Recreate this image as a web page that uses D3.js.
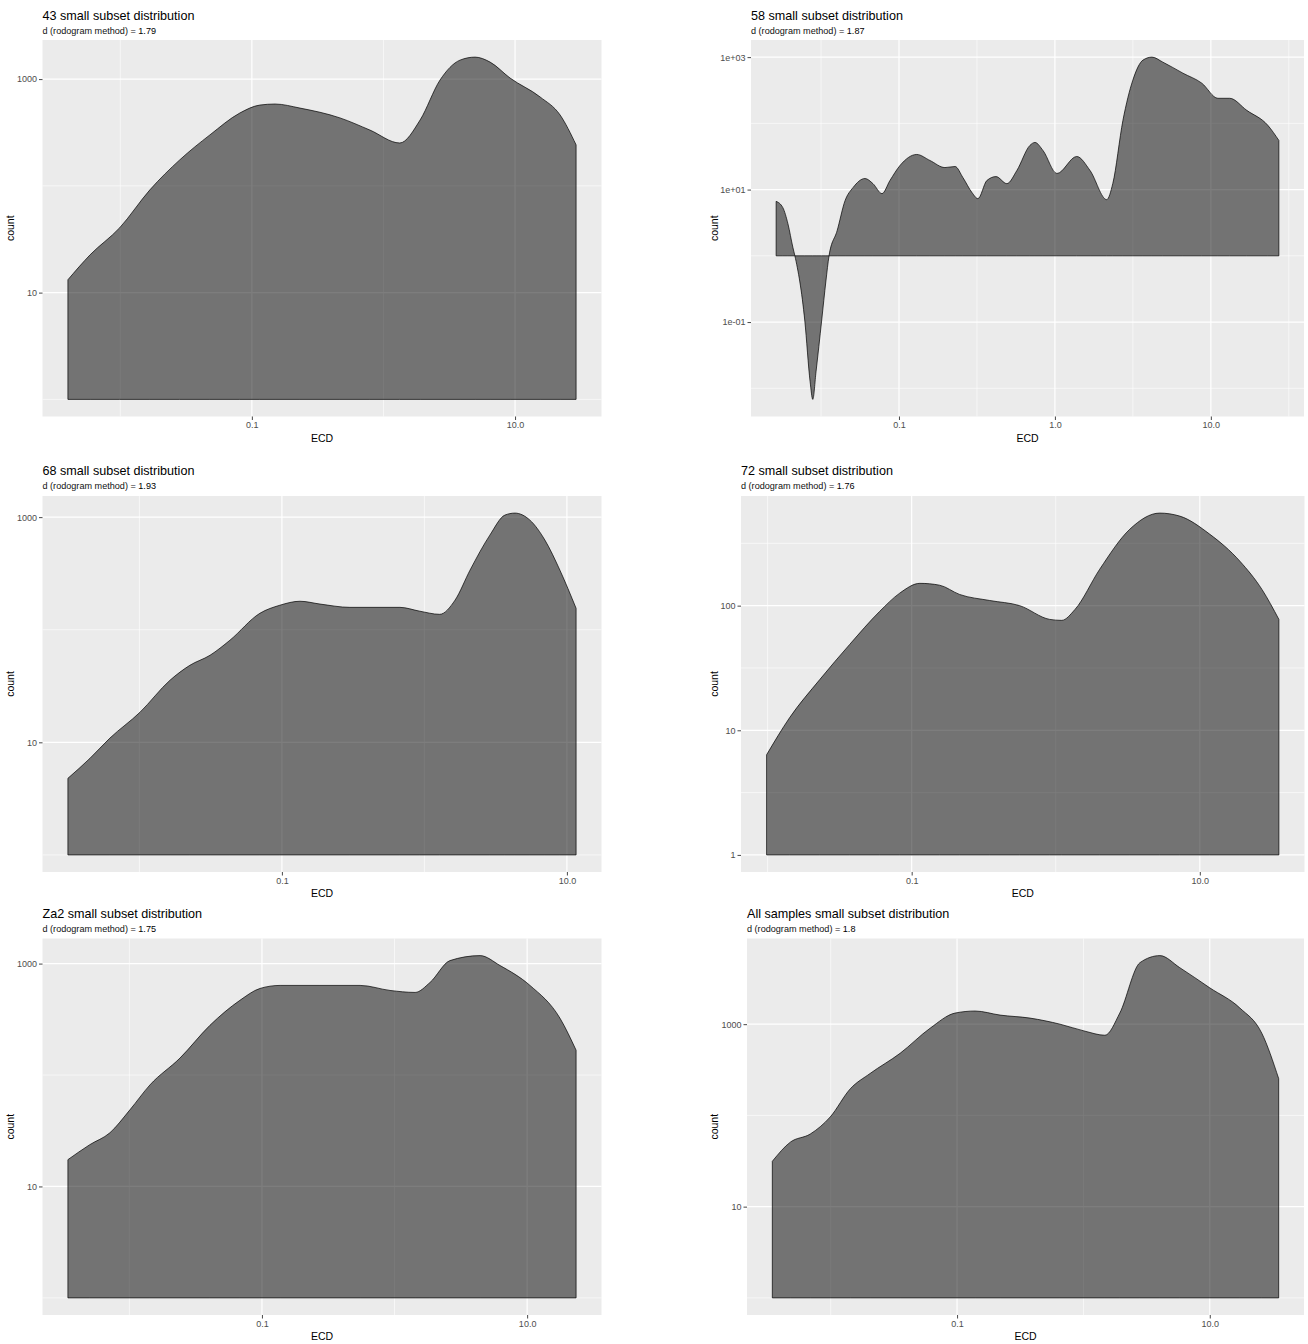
<!DOCTYPE html>
<html>
<head>
<meta charset="utf-8">
<script src="https://cdn.jsdelivr.net/npm/d3@7"></script>
<style>
  body { margin: 0; background: #fff; }
  text { font-family: "Liberation Sans", Arial, sans-serif; }
</style>
</head>
<body>
<svg id="chart" width="1308" height="1344"></svg>
<script>
// ---- Sample names and fractal dimension estimates ----
const sampleNames = ["43", "58", "68", "72", "Za2", "All samples"];
const dValues = ["1.79", "1.87", "1.93", "1.76", "1.75", "1.8"];

// ---- Density curves (ECD vs. count) per sample ----
const ecd43 = [0.0040, 0.0059, 0.0099, 0.0168, 0.0283, 0.048, 0.081, 0.115, 0.150, 0.232, 0.467, 0.789, 1.33, 1.90, 2.69, 3.82, 4.97, 6.46, 9.17, 15.5, 22.0, 29.1];
const count43 = [13.2, 22.6, 40.5, 91.8, 175, 300, 481, 571, 584, 535, 433, 333, 252, 414, 979, 1505, 1606, 1442, 1022, 680, 461, 242];

const ecd58 = [0.0163, 0.0180, 0.0194, 0.0209, 0.0215, 0.0249, 0.0269, 0.0280, 0.0294, 0.0319, 0.0340, 0.0356, 0.0401, 0.0451, 0.0507, 0.0605, 0.0681, 0.0778, 0.0875, 0.1015, 0.130, 0.158, 0.197, 0.229, 0.257, 0.294, 0.321, 0.366, 0.419, 0.492, 0.570, 0.691, 0.745, 0.838, 1.03, 1.38, 1.68, 2.15, 2.35, 2.73, 3.16, 3.67, 4.19, 4.92, 6.62, 8.75, 11.1, 13.2, 17.0, 23.2, 27.3];
const count58 = [6.65, 5.34, 3.05, 1.32, 1.0, 0.1035, 0.0128, 0.0068, 0.0181, 0.1035, 0.418, 1.0, 2.39, 6.81, 10.7, 14.7, 12.3, 8.69, 13.7, 23.1, 33.9, 27.5, 21.5, 22.3, 15.2, 9.0, 7.3, 13.7, 15.7, 12.3, 19.4, 46.4, 51.5, 39.0, 17.5, 31.6, 19.4, 7.05, 12.3, 111, 449, 901, 1000, 840, 572, 404, 239, 239, 157, 93.3, 55.2];

const ecd68 = [0.00315, 0.00450, 0.00621, 0.0101, 0.0164, 0.0226, 0.0313, 0.0432, 0.0701, 0.0968, 0.134, 0.185, 0.300, 0.673, 0.929, 1.28, 1.64, 2.09, 2.88, 3.67, 4.32, 5.50, 7.01, 8.93, 11.6];
const count68 = [4.79, 7.21, 10.9, 18.5, 35.6, 48.3, 59.3, 80.7, 140, 165, 179, 169, 158, 158, 146, 137, 183, 338, 692, 1042, 1086, 940, 625, 338, 155];

const ecd72 = [0.00984, 0.0142, 0.0230, 0.0371, 0.0600, 0.0826, 0.114, 0.156, 0.215, 0.348, 0.562, 0.908, 1.10, 1.36, 2.02, 3.27, 5.27, 7.26, 11.7, 19.0, 27.0, 35.4];
const count72 = [6.36, 12.6, 25.5, 48.8, 90.0, 126, 151, 146, 123, 110, 100, 77.6, 76.2, 93.2, 196, 411, 553, 523, 375, 227, 135, 77.6];

const ecdZa2 = [0.00344, 0.00503, 0.00713, 0.0101, 0.0143, 0.0241, 0.0405, 0.0682, 0.0966, 0.137, 0.274, 0.550, 0.925, 1.43, 1.85, 2.62, 4.42, 6.25, 10.5, 17.7, 23.4];
const countZa2 = [17.4, 23.7, 30.3, 48.7, 81.5, 142, 279, 468, 598, 637, 637, 637, 574, 551, 676, 1064, 1179, 960, 637, 323, 167];

const ecdAll = [0.00345, 0.00479, 0.00689, 0.00991, 0.0143, 0.0205, 0.0354, 0.0612, 0.0964, 0.139, 0.219, 0.378, 0.652, 1.03, 1.48, 1.94, 2.80, 4.03, 5.79, 10.0, 17.3, 25.8, 35.1];
const countAll = [31.4, 50.9, 62.5, 96.2, 196, 288, 479, 903, 1323, 1393, 1257, 1165, 1000, 837, 756, 1323, 4720, 5640, 4160, 2500, 1503, 796, 253];

// ---- Axis breaks and their labels ----
const xTicks2 = [0.1, 10];
const xTickLabels2 = ["0.1", "10.0"];
const xTicks3 = [0.1, 1, 10];
const xTickLabels3 = ["0.1", "1.0", "10.0"];
const yTicksHundreds = [10, 1000];
const yTickLabelsHundreds = ["10", "1000"];
const yTicksSci = [0.1, 10, 1000];
const yTickLabelsSci = ["1e-01", "1e+01", "1e+03"];
const yTicksDecades = [1, 10, 100];
const yTickLabelsDecades = ["1", "10", "100"];

// Baseline of each filled density (count = 1)
const baselineCount = 1;

const series = [
  { ecd: ecd43,  count: count43,  xt: xTicks2, xl: xTickLabels2, yt: yTicksHundreds, yl: yTickLabelsHundreds },
  { ecd: ecd58,  count: count58,  xt: xTicks3, xl: xTickLabels3, yt: yTicksSci,      yl: yTickLabelsSci },
  { ecd: ecd68,  count: count68,  xt: xTicks2, xl: xTickLabels2, yt: yTicksHundreds, yl: yTickLabelsHundreds },
  { ecd: ecd72,  count: count72,  xt: xTicks2, xl: xTickLabels2, yt: yTicksDecades,  yl: yTickLabelsDecades },
  { ecd: ecdZa2, count: countZa2, xt: xTicks2, xl: xTickLabels2, yt: yTicksHundreds, yl: yTickLabelsHundreds },
  { ecd: ecdAll, count: countAll, xt: xTicks2, xl: xTickLabels2, yt: yTicksHundreds, yl: yTickLabelsHundreds }
];

// ---- Page layout: rows share panel top/bottom and title baselines ----
const rows = [
  { y0: 40,    y1: 416.5, title: 19.5,  subtitle: 33.5 },
  { y0: 496,   y1: 872,   title: 474.5, subtitle: 488.5 },
  { y0: 938.5, y1: 1315,  title: 917.5, subtitle: 931.5 }
];
const columns = [
  { yTitleX: 10 },
  { yTitleX: 714 }
];
const panelLeft = [42.5, 751, 42.5, 741, 42.5, 747];
const panelRight = [601.5, 1304, 601.5, 1304.5, 601.5, 1304];

const svg = d3.select("#chart");
svg.append("rect").attr("width", 1308).attr("height", 1344).attr("fill", "#fff");

// Log range of the values, padded by 5% on each side (in log space)
function paddedLogDomain(values) {
  const logs = values.map(v => Math.log10(v));
  const lo = d3.min(logs), hi = d3.max(logs);
  const pad = (hi - lo) * 0.05;
  return [Math.pow(10, lo - pad), Math.pow(10, hi + pad)];
}

// Minor breaks halfway (in log space) between majors, extended one step out
function minorBreaks(majors) {
  const logs = majors.map(v => Math.log10(v));
  const step = logs.length > 1 ? logs[1] - logs[0] : 1;
  const ext = [logs[0] - step, ...logs, logs[logs.length - 1] + step];
  const out = [];
  for (let i = 0; i < ext.length - 1; i++) out.push(Math.pow(10, (ext[i] + ext[i + 1]) / 2));
  return out;
}

series.forEach((s, i) => {
  const row = rows[Math.floor(i / 2)];
  const col = columns[i % 2];
  const f = { x0: panelLeft[i], x1: panelRight[i], y0: row.y0, y1: row.y1 };
  const pts = s.ecd.map((e, k) => ({ ecd: e, count: s.count[k] }));

  const x = d3.scaleLog().domain(paddedLogDomain(s.ecd)).range([f.x0, f.x1]);
  const y = d3.scaleLog().domain(paddedLogDomain([...s.count, baselineCount])).range([f.y1, f.y0]);

  const g = svg.append("g");

  // Panel background
  g.append("rect")
    .attr("x", f.x0).attr("y", f.y0)
    .attr("width", f.x1 - f.x0).attr("height", f.y1 - f.y0)
    .attr("fill", "#EBEBEB");

  const inX = v => x(v) >= f.x0 && x(v) <= f.x1;
  const inY = v => y(v) >= f.y0 && y(v) <= f.y1;

  // Minor grid
  g.selectAll(".mx").data(minorBreaks(s.xt).filter(inX)).join("line")
    .attr("x1", d => x(d)).attr("x2", d => x(d)).attr("y1", f.y0).attr("y2", f.y1)
    .attr("stroke", "#fff").attr("stroke-width", 0.6);
  g.selectAll(".my").data(minorBreaks(s.yt).filter(inY)).join("line")
    .attr("y1", d => y(d)).attr("y2", d => y(d)).attr("x1", f.x0).attr("x2", f.x1)
    .attr("stroke", "#fff").attr("stroke-width", 0.6);

  // Major grid
  g.selectAll(".Mx").data(s.xt.filter(inX)).join("line")
    .attr("x1", d => x(d)).attr("x2", d => x(d)).attr("y1", f.y0).attr("y2", f.y1)
    .attr("stroke", "#fff").attr("stroke-width", 1.2);
  g.selectAll(".My").data(s.yt.filter(inY)).join("line")
    .attr("y1", d => y(d)).attr("y2", d => y(d)).attr("x1", f.x0).attr("x2", f.x1)
    .attr("stroke", "#fff").attr("stroke-width", 1.2);

  // Filled density relative to count = 1
  const area = d3.area()
    .x(d => x(d.ecd))
    .y0(y(baselineCount))
    .y1(d => y(d.count))
    .curve(d3.curveMonotoneX);
  g.append("path").datum(pts)
    .attr("d", area)
    .attr("fill", "#000").attr("fill-opacity", 0.51)
    .attr("stroke", "#000").attr("stroke-width", 0.7)
    .attr("stroke-linejoin", "round");

  // Axes
  const xAxis = d3.axisBottom(x).tickValues(s.xt).tickFormat((d, k) => s.xl[k]).tickSize(3.5).tickPadding(2);
  const gx = g.append("g").attr("transform", `translate(0,${f.y1})`).call(xAxis);
  const yAxis = d3.axisLeft(y).tickValues(s.yt).tickFormat((d, k) => s.yl[k]).tickSize(3.5).tickPadding(2);
  const gy = g.append("g").attr("transform", `translate(${f.x0},0)`).call(yAxis);
  [gx, gy].forEach(a => {
    a.select(".domain").remove();
    a.selectAll(".tick line").attr("stroke", "#333").attr("stroke-width", 0.9);
    a.selectAll(".tick text").attr("fill", "#4D4D4D").attr("font-size", 9)
      .attr("font-family", "Liberation Sans, Arial, sans-serif");
  });

  // Axis titles
  g.append("text")
    .attr("x", (f.x0 + f.x1) / 2).attr("y", f.y1 + 25)
    .attr("text-anchor", "middle").attr("font-size", 10.5).attr("fill", "#000")
    .text("ECD");
  g.append("text")
    .attr("transform", `translate(${col.yTitleX + 3.5},${(f.y0 + f.y1) / 2}) rotate(-90)`)
    .attr("text-anchor", "middle").attr("font-size", 10.5).attr("fill", "#000")
    .text("count");

  // Title and subtitle
  g.append("text")
    .attr("x", f.x0).attr("y", row.title)
    .attr("font-size", 12.6).attr("fill", "#000")
    .text(`${sampleNames[i]} small subset distribution`);
  const sub = g.append("text")
    .attr("x", f.x0).attr("y", row.subtitle)
    .attr("font-size", 9.1).attr("fill", "#111");
  sub.append("tspan").text("d (rodogram method) =  ");
  sub.append("tspan").attr("fill", "#000").text(dValues[i]);
});
</script>
</body>
</html>
